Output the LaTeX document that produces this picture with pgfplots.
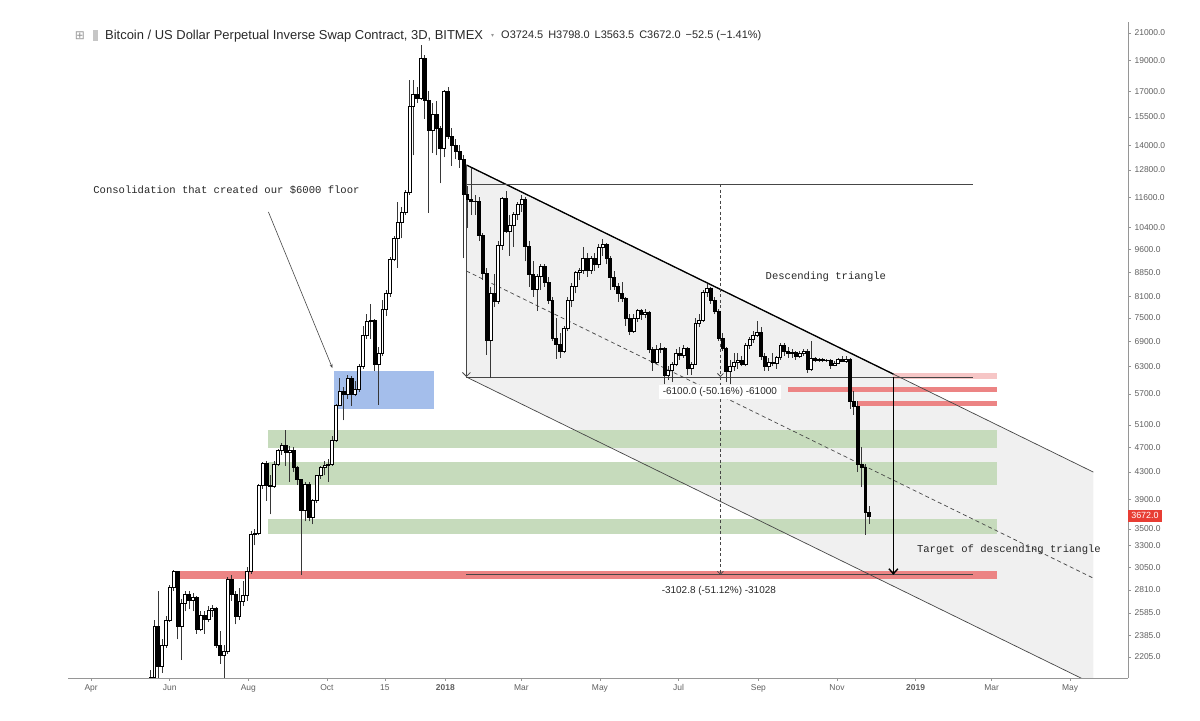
\documentclass[border=0pt]{standalone}
\usepackage{pgfplots}
\pgfplotsset{compat=1.18}
\usepackage{pgfplotstable}
\usepackage{xfp}
\usepackage{fontspec}
\setmainfont{Liberation Sans}
\newfontfamily\courier{Liberation Mono}
\newfontfamily\dejavu{DejaVu Sans}
\usetikzlibrary{arrows.meta}

\definecolor{axisgray}{RGB}{150,150,150}
\definecolor{ticktext}{RGB}{95,95,95}
\definecolor{channelgray}{RGB}{240,240,240}
\definecolor{bandgreen}{RGB}{198,219,188}
\definecolor{bandred}{RGB}{236,132,132}
\definecolor{bandpink}{RGB}{246,198,198}
\definecolor{zoneblue}{RGB}{164,190,235}
\definecolor{pricered}{RGB}{232,62,52}
\definecolor{linegray}{RGB}{70,70,70}
\definecolor{wickgray}{RGB}{55,55,55}
\definecolor{titletext}{RGB}{40,40,40}

% 3-day candles: day offset from 2018-01-01, open, high, low, close
\pgfplotstableread{
d o h l c
-229 1880 2100 1870 2050
-226 2050 2520 2020 2460
-223 2460 2800 1880 2130
-220 2130 2350 2080 2300
-217 2300 2560 2280 2520
-214 2520 2860 2500 2840
-211 2840 3020 2800 3000
-208 3000 3010 2350 2460
-205 2460 2720 2180 2680
-202 2680 2800 2600 2770
-199 2770 2800 2620 2710
-196 2710 2780 2600 2740
-193 2740 2750 2400 2440
-190 2440 2600 2420 2560
-187 2560 2600 2400 2530
-184 2530 2650 2500 2610
-181 2610 2660 2550 2630
-178 2630 2640 2280 2300
-175 2300 2420 2150 2220
-172 2220 2300 1830 2250
-169 2250 2940 2230 2920
-166 2920 2970 2700 2770
-163 2770 2800 2480 2550
-160 2550 2830 2520 2700
-157 2700 2900 2650 2760
-154 2760 3050 2700 3010
-151 3010 3480 2980 3430
-148 3430 3500 3300 3450
-145 3450 4120 3420 4100
-142 4100 4460 4050 4440
-139 4440 4480 3880 4100
-136 4100 4250 3690 4080
-133 4080 4480 4060 4430
-130 4430 4680 4400 4650
-127 4650 4780 4580 4740
-124 4740 5000 4400 4620
-121 4620 4720 4150 4650
-118 4650 4700 4300 4370
-115 4370 4400 4100 4190
-112 4190 4200 2970 3740
-109 3740 4150 3600 4120
-106 4120 4150 3600 3650
-103 3650 3900 3560 3880
-100 3880 4260 3850 4250
-97 4250 4400 4200 4370
-94 4370 4480 4250 4400
-91 4400 4500 4150 4430
-88 4430 4900 4400 4830
-85 4830 5500 4800 5470
-82 5470 6030 5450 5760
-79 5760 5850 5180 5700
-76 5700 6100 5600 6030
-73 6030 6080 5460 5700
-70 5700 5980 5650 5800
-67 5800 6350 5750 6310
-64 6310 7300 6250 7050
-61 7050 7600 6950 7400
-58 7400 7900 6950 7450
-55 7450 7480 6200 6350
-52 6350 6750 5480 6600
-49 6600 8000 6550 7750
-46 7750 8300 7550 8200
-43 8200 9350 8100 9280
-40 9280 10100 9200 10020
-37 10020 11400 9000 10600
-34 10600 11200 10000 11000
-31 11000 11900 10900 11800
-28 11800 17700 11700 16100
-25 16100 17700 13500 16800
-22 16800 17300 16300 16600
-19 16600 20100 16500 19180
-16 19180 19400 15400 16470
-13 16470 17000 10960 14790
-10 14790 16300 13600 15630
-7 15630 16400 13500 14900
-4 14900 15000 12200 13850
-1 13850 17100 13400 17000
2 17000 17250 14300 14470
5 14470 14900 13000 14000
8 14000 14300 13300 13700
11 13700 14000 12900 13300
14 13300 13500 9300 11720
17 11720 12100 10400 11500
20 11500 12900 10900 11450
23 11450 11700 10900 11430
26 11430 11600 9900 10100
29 10100 10200 8600 8800
32 8800 9000 6570 6920
35 6920 8400 6030 8210
38 8210 8800 7800 7960
41 7960 9900 7900 9740
44 9740 11600 9600 11550
47 11550 11850 10200 10260
50 10260 10900 9400 10500
53 10500 11000 9700 10900
56 10900 11400 10700 11300
59 11300 11700 11000 11500
62 11500 11600 9200 9720
65 9720 9900 8400 8790
68 8790 9200 8100 8330
71 8330 8800 7700 8720
74 8720 9100 8300 9030
77 9030 9100 8400 8540
80 8540 8700 7900 7990
83 7990 8100 6900 6960
86 6960 7500 6480 6810
89 6810 7100 6500 6650
92 6650 7300 6600 7220
95 7220 8100 7150 7990
98 7990 8500 7800 8410
101 8410 8900 8200 8850
104 8850 9000 8600 8900
107 8900 9700 8800 9300
110 9300 9500 8700 8900
113 8900 9400 8800 9300
116 9300 9500 8900 9100
119 9100 9800 9000 9700
122 9700 9990 9400 9800
125 9800 9850 9100 9300
128 9300 9400 8300 8700
131 8700 8900 8300 8400
134 8400 8500 7950 8200
137 8200 8550 7950 8050
140 8050 8100 7300 7480
143 7480 7600 7050 7150
146 7150 7600 7100 7500
149 7500 7750 7400 7700
152 7700 7750 7450 7600
155 7600 7750 7500 7650
158 7650 7700 6600 6700
161 6700 6750 6200 6400
164 6400 6800 6350 6700
167 6700 6850 6600 6720
170 6720 6750 5900 6100
173 6100 6300 6000 6200
176 6200 6400 5950 6350
179 6350 6700 6300 6600
182 6600 6750 6450 6550
185 6550 6800 6500 6720
188 6720 6750 6100 6250
191 6250 6400 6100 6350
194 6350 7500 6340 7350
197 7350 7600 7250 7450
200 7450 8300 7400 8240
203 8240 8470 8100 8350
206 8350 8400 7900 8000
209 8000 8100 7600 7680
212 7680 7750 6900 6960
215 6960 7100 6650 6720
218 6720 6750 5950 6190
221 6190 6450 5900 6300
224 6300 6600 6200 6400
227 6400 6600 6250 6450
230 6450 6550 6300 6350
233 6350 6850 6300 6800
236 6800 7000 6700 6950
239 6950 7150 6850 7050
242 7050 7430 7000 7120
245 7120 7250 6450 6530
248 6530 6600 6200 6290
251 6290 6500 6200 6400
254 6400 6600 6300 6360
257 6360 6550 6250 6500
260 6500 6850 6450 6800
263 6800 6850 6550 6650
266 6650 6750 6500 6600
269 6600 6700 6500 6620
272 6620 6650 6450 6530
275 6530 6650 6500 6600
278 6600 6700 6550 6650
281 6650 6700 6150 6230
284 6230 6900 6200 6480
287 6480 6520 6400 6450
290 6450 6500 6400 6460
293 6460 6490 6400 6440
296 6440 6480 6400 6450
299 6450 6480 6250 6330
302 6330 6420 6300 6380
305 6380 6500 6350 6460
308 6460 6550 6400 6420
311 6420 6550 6380 6470
314 6470 6500 5400 5550
317 5550 5760 5290 5450
320 5450 5550 4300 4420
323 4420 4700 4070 4380
326 4380 4420 3430 3724.5
329 3724.5 3798 3563.5 3672
}\candles

\tikzset{
  wick/.style={draw=wickgray, line width=0.7bp},
  body/.style={draw=black, line width=0.6bp},
  measure/.style={draw=linegray, line width=0.8bp},
  note/.style={font=\courier\fontsize{10.6}{12}\selectfont, text=titletext, inner sep=0pt},
  rangelabel/.style={font=\fontsize{10}{12}\selectfont, text=titletext},
}

\begin{document}
\begin{tikzpicture}
\path[use as bounding box] (0,0) rectangle (1200bp,721bp);
\begin{axis}[
  at={(68bp,43bp)}, anchor=south west,
  scale only axis, width=1060bp, height=656bp,
  xmin=-293, xmax=530,
  ymode=log, ymin=2044, ymax=21850,
  axis x line=bottom, axis y line=right,
  axis line style={-, draw=axisgray, line width=0.8bp},
  tick align=outside, major tick length=3bp,
  tick style={draw=axisgray, line width=0.6bp},
  yminorticks=false, xminorticks=false,
  xtick={-275,-214,-153,-92,-47,0,59,120,181,243,304,365,424,485},
  xticklabels={Apr,Jun,Aug,Oct,15,\textbf{2018},Mar,May,Jul,Sep,Nov,\textbf{2019},Mar,May},
  ytick={2205,2385,2585,2810,3050,3300,3500,3900,4300,4700,5100,5700,6300,6900,7500,8100,8850,9600,10400,11600,12800,14000,15500,17000,19000,21000},
  yticklabels={2205.0,2385.0,2585.0,2810.0,3050.0,3300.0,3500.0,3900.0,4300.0,4700.0,5100.0,5700.0,6300.0,6900.0,7500.0,8100.0,8850.0,9600.0,10400.0,11600.0,12800.0,14000.0,15500.0,17000.0,19000.0,21000.0},
  ticklabel style={font=\fontsize{8.5}{10}\selectfont, text=ticktext},
  /pgf/number format/assume math mode=true,
  extra y ticks={3672},
  extra y tick labels={3672.0},
  extra y tick style={yticklabel style={fill=pricered, text=white, font=\fontsize{9}{10}\selectfont, inner xsep=3bp, inner ysep=2.6bp, xshift=-3bp}},
]
  % parallel channel with its shaded body
  \fill[channelgray] (axis cs:16.3,13035) -- (axis cs:503.1,4299) -- (axis cs:503.1,1999) -- (axis cs:16.3,6061) -- cycle;

  % support / resistance zones
  \fill[bandgreen] (axis cs:-137.4,5004) rectangle (axis cs:428.6,4689);
  \fill[bandgreen] (axis cs:-137.4,4458) rectangle (axis cs:428.6,4101);
  \fill[bandgreen] (axis cs:-137.4,3629) rectangle (axis cs:428.6,3437);
  \fill[bandred] (axis cs:-206,3005) rectangle (axis cs:428.6,2920);
  \fill[bandpink] (axis cs:347.8,6149) rectangle (axis cs:428.6,6016);
  \fill[bandred] (axis cs:266.3,5844) rectangle (axis cs:428.6,5741);
  \fill[bandred] (axis cs:319.9,5555) rectangle (axis cs:428.6,5456);
  \fill[zoneblue] (axis cs:-86.2,6193) rectangle (axis cs:-8.5,5399);

  % channel lines
  \draw[draw=linegray, line width=0.7bp] (axis cs:16.3,13035) -- (axis cs:503.1,4299);
  \draw[draw=linegray, line width=0.7bp] (axis cs:16.3,6061) -- (axis cs:503.1,1999);
  \draw[draw=linegray, line width=0.7bp, dash pattern=on 4bp off 3bp] (axis cs:16.3,8889) -- (axis cs:503.1,2931);
  \draw[draw=black, line width=1.3bp] (axis cs:16.3,13035) -- (axis cs:347.8,6125);

  % price range measurements
  \draw[measure] (axis cs:16.3,12161) -- (axis cs:409.9,12161);
  \draw[measure] (axis cs:16.3,6061) -- (axis cs:409.9,6061);
  \draw[measure] (axis cs:16.3,2967) -- (axis cs:409.9,2967);
  \draw[measure, -{Straight Barb[length=4bp,width=8bp]}] (axis cs:16.3,13035) -- (axis cs:16.3,6061);
  \draw[draw=linegray, line width=0.8bp, dash pattern=on 3bp off 2.5bp, -{Straight Barb[length=3bp,width=6bp]}] (axis cs:213.5,12161) -- (axis cs:213.5,6061);
  \draw[draw=linegray, line width=0.8bp, dash pattern=on 3bp off 2.5bp, -{Straight Barb[length=3bp,width=6bp]}] (axis cs:213.5,6061) -- (axis cs:213.5,2967);

  % candles
  \pgfplotstablegetrowsof{\candles}
  \pgfmathtruncatemacro{\lastrow}{\pgfplotsretval-1}
  \pgfplotsinvokeforeach{0,...,\lastrow}{%
    \pgfplotstablegetelem{#1}{d}\of\candles \let\cd\pgfplotsretval
    \pgfplotstablegetelem{#1}{o}\of\candles \let\co\pgfplotsretval
    \pgfplotstablegetelem{#1}{h}\of\candles \let\ch\pgfplotsretval
    \pgfplotstablegetelem{#1}{l}\of\candles \let\cl\pgfplotsretval
    \pgfplotstablegetelem{#1}{c}\of\candles \let\cc\pgfplotsretval
    \edef\xa{\fpeval{\cd-1.15}}%
    \edef\xb{\fpeval{\cd+1.15}}%
    \ifnum\fpeval{\cc<\co}=1 \def\bodyfill{black}\else\def\bodyfill{white}\fi
    \edef\temp{%
      \noexpand\draw[wick] (axis cs:\cd,\cl) -- (axis cs:\cd,\ch);
      \noexpand\draw[body, fill=\bodyfill] (axis cs:\xa,\co) rectangle (axis cs:\xb,\cc);}%
    \temp
  }

  % target arrow of the triangle
  \draw[draw=black, line width=1.4bp, -{Straight Barb[length=5bp,width=9bp]}] (axis cs:347.8,6061) -- (axis cs:347.8,2967);

  % notes
  \node[note] at (axis cs:-170,11911) {Consolidation that created our \$6000 floor};
  \draw[draw=linegray, line width=0.6bp, -{Stealth[length=4bp,width=3bp]}] (axis cs:-137.4,11000) -- (axis cs:-87.7,6260);
  \node[note] at (axis cs:295.4,8698) {Descending triangle};
  \node[note] at (axis cs:437.5,3245) {Target of descending triangle};
  \node[rangelabel, fill=white, inner xsep=4bp, inner ysep=2bp] at (axis cs:213.1,5741) {-6100.0 (-50.16\%) -61000};
  \node[rangelabel] at (axis cs:212.3,2797) {-3102.8 (-51.12\%) -31028};

  % header line
  \node[text=axisgray, font=\dejavu\fontsize{12}{14}\selectfont, inner sep=0pt] at (rel axis cs:0.01132,0.9787) {⊞};
  \fill[gray!45] (rel axis cs:0.0236,0.9710) rectangle (rel axis cs:0.0283,0.9878);
  \node[anchor=west, inner sep=0pt, text=titletext, font=\fontsize{13}{15}\selectfont] at (rel axis cs:0.0349,0.9787) {Bitcoin / US Dollar Perpetual Inverse Swap Contract, 3D, BITMEX};
  \node[anchor=west, inner sep=0pt, text=axisgray, font=\dejavu\fontsize{6}{7}\selectfont] at (rel axis cs:0.3990,0.9787) {▾};
  \node[anchor=west, inner sep=0pt, text=titletext, font=\fontsize{11}{13}\selectfont] at (rel axis cs:0.4085,0.9787) {O3724.5\hspace{5bp}H3798.0\hspace{5bp}L3563.5\hspace{5bp}C3672.0\hspace{5bp}−52.5 (−1.41\%)};
\end{axis}
\end{tikzpicture}
\end{document}
